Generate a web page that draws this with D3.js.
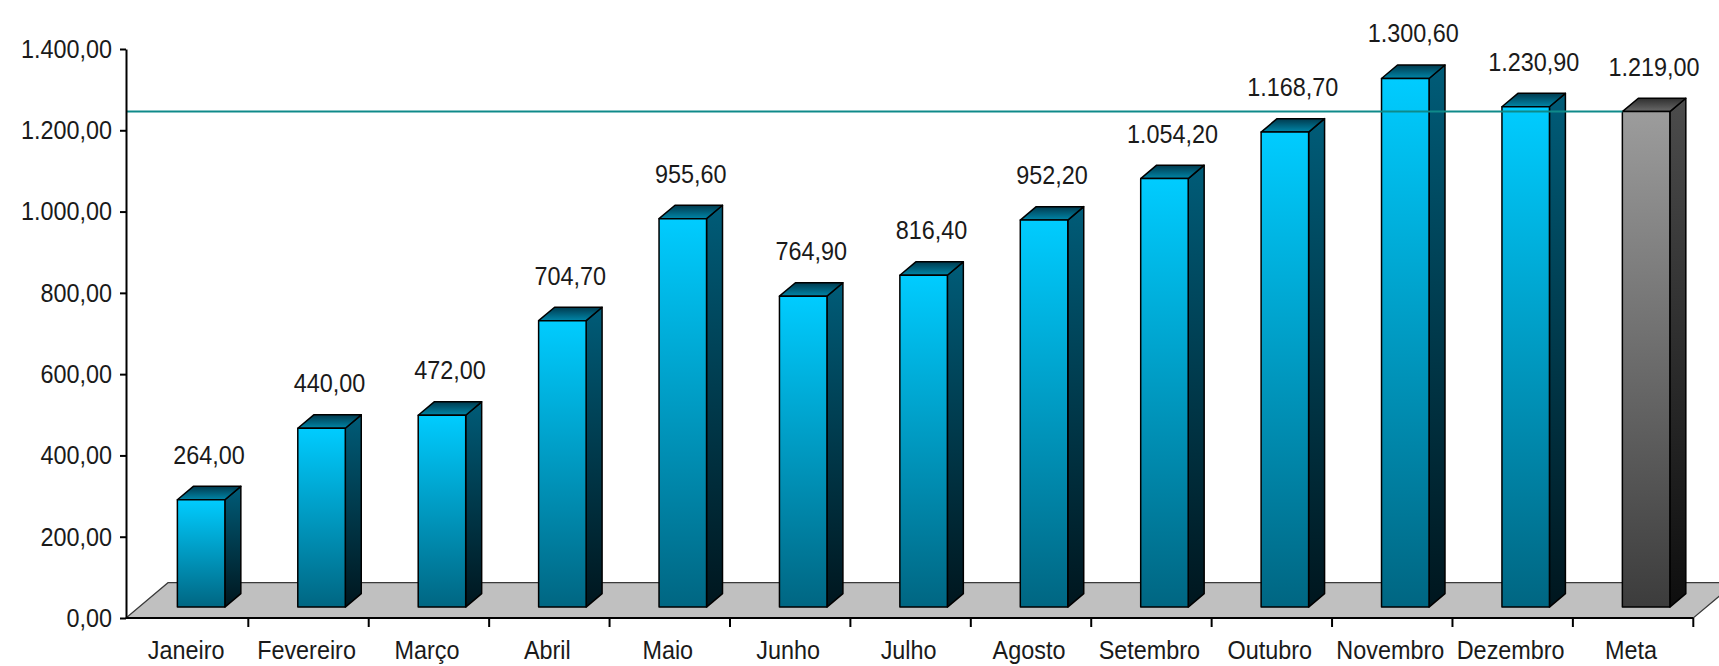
<!DOCTYPE html>
<html>
<head>
<meta charset="utf-8">
<script src="https://cdn.jsdelivr.net/npm/d3@7"></script>
<style>
  body { margin: 0; background: #fff; }
  text { font-family: 'Liberation Sans', Arial, sans-serif; font-size: 26px; fill: #1a1a1a; }
</style>
</head>
<body>
<svg id="chart"></svg>
<script>
// Monthly totals plus the yearly goal ("Meta") as the last category
const months = ['Janeiro', 'Fevereiro', 'Março', 'Abril', 'Maio', 'Junho', 'Julho',
  'Agosto', 'Setembro', 'Outubro', 'Novembro', 'Dezembro', 'Meta'];
const values = [264, 440, 472, 704.7, 955.6, 764.9, 816.4, 952.2, 1054.2, 1168.7, 1300.6, 1230.9, 1219];
const yTicks = [0, 200, 400, 600, 800, 1000, 1200, 1400];

const width = 1719;
const height = 666;
const squeeze = 0.9; // the original font is narrow and tall

// pt-BR number format: 1.230,90
const br = d3.formatLocale({ decimal: ',', thousands: '.', grouping: [3], currency: ['R$', ''] });
const fmt = br.format(',.2f');

const svg = d3.select('#chart').attr('width', width).attr('height', height);

const x = d3.scaleBand().domain(months).range([127.9, 1693.3]).padding(0);
const y = d3.scaleLinear().domain([0, 1400]).range([618, 49]);

// 3D depth of the floor, and where the bars sit inside that depth
const floorDx = 42;
const floorDy = 35.3;
const barFront = 0.31; // fraction of floor depth in front of the bars
const barDepth = 0.38;
const offX = floorDx * barFront;
const offY = floorDy * barFront;
const bdx = floorDx * barDepth;
const bdy = floorDy * barDepth;
const barW = 47.5;

const isMeta = (d, i) => i === months.length - 1;

// gradients
const defs = svg.append('defs');
function grad(id, c0, c1) {
  const g = defs.append('linearGradient').attr('id', id)
    .attr('x1', 0).attr('y1', 0).attr('x2', 0).attr('y2', 1);
  g.append('stop').attr('offset', '0%').attr('stop-color', c0);
  g.append('stop').attr('offset', '100%').attr('stop-color', c1);
}
grad('frontBlue', '#00ccff', '#006682');
grad('sideBlue', '#005c78', '#00161e');
grad('topBlue', '#003a4e', '#0086a8');
grad('frontGray', '#9c9c9c', '#3c3c3c');
grad('sideGray', '#4c4c4c', '#0e0e0e');
grad('topGray', '#2e2e2e', '#6a6a6a');

const x0 = 126;
const x1 = x.range()[1];

// floor
svg.append('polygon')
  .attr('points', [[x0, y(0)], [x0 + floorDx, y(0) - floorDy], [x1 + floorDx, y(0) - floorDy], [x1, y(0)]].join(' '))
  .attr('fill', '#c0c0c0')
  .attr('stroke', '#3a3a3a')
  .attr('stroke-width', 1.2);

// bars
const base = y(0) - offY;
const bars = svg.append('g').selectAll('g')
  .data(values)
  .join('g')
  .attr('stroke', '#000')
  .attr('stroke-width', 1.5)
  .attr('stroke-linejoin', 'round');

const fx = (d, i) => x(months[i]) + x.bandwidth() / 2 + offX - barW / 2;
const barTop = d => y(d) - offY;

bars.append('polygon')
  .attr('fill', (d, i) => isMeta(d, i) ? 'url(#sideGray)' : 'url(#sideBlue)')
  .attr('points', (d, i) => {
    const l = fx(d, i) + barW;
    return [[l, barTop(d)], [l + bdx, barTop(d) - bdy], [l + bdx, base - bdy], [l, base]].join(' ');
  });

bars.append('polygon')
  .attr('fill', (d, i) => isMeta(d, i) ? 'url(#topGray)' : 'url(#topBlue)')
  .attr('points', (d, i) => {
    const l = fx(d, i);
    return [[l, barTop(d)], [l + bdx, barTop(d) - bdy], [l + barW + bdx, barTop(d) - bdy], [l + barW, barTop(d)]].join(' ');
  });

bars.append('rect')
  .attr('fill', (d, i) => isMeta(d, i) ? 'url(#frontGray)' : 'url(#frontBlue)')
  .attr('x', fx)
  .attr('y', barTop)
  .attr('width', barW)
  .attr('height', d => base - barTop(d));

// goal line, from the axis to the Meta bar
const goal = values[values.length - 1];
svg.append('line')
  .attr('x1', x0)
  .attr('x2', fx(goal, values.length - 1))
  .attr('y1', barTop(goal))
  .attr('y2', barTop(goal))
  .attr('stroke', '#0f8a8a')
  .attr('stroke-width', 2);

// value labels
svg.append('g').selectAll('text')
  .data(values)
  .join('text')
  .attr('text-anchor', 'middle')
  .attr('transform', (d, i) =>
    `translate(${fx(d, i) + barW / 2 + bdx / 2},${barTop(d) - 36}) scale(${squeeze},1)`)
  .text(d => fmt(d));

// y axis
const yAxis = svg.append('g')
  .attr('transform', `translate(${x0},0)`)
  .call(d3.axisLeft(y).tickValues(yTicks).tickFormat(fmt).tickSize(6).tickSizeOuter(0).tickPadding(8));
yAxis.select('.domain').attr('stroke', '#000').attr('stroke-width', 2);
yAxis.selectAll('.tick line').attr('stroke', '#000').attr('stroke-width', 2);
yAxis.selectAll('.tick text')
  .attr('font-size', null).attr('font-family', null).attr('fill', null)
  .attr('x', -14 / squeeze)
  .attr('transform', `scale(${squeeze},1)`);

// x axis: front edge of the floor with ticks at category boundaries
const xAxis = svg.append('g');
xAxis.append('line')
  .attr('x1', x0).attr('x2', x1)
  .attr('y1', y(0)).attr('y2', y(0))
  .attr('stroke', '#000').attr('stroke-width', 2);
xAxis.selectAll('.tk')
  .data(months)
  .join('line')
  .attr('class', 'tk')
  .attr('x1', d => x(d) + x.bandwidth())
  .attr('x2', d => x(d) + x.bandwidth())
  .attr('y1', y(0))
  .attr('y2', y(0) + 9)
  .attr('stroke', '#000').attr('stroke-width', 2);
xAxis.selectAll('text')
  .data(months)
  .join('text')
  .attr('text-anchor', 'middle')
  .attr('transform', d => `translate(${x(d) + x.bandwidth() / 2 - 2},659) scale(${squeeze},1)`)
  .text(d => d);
</script>
</body>
</html>
